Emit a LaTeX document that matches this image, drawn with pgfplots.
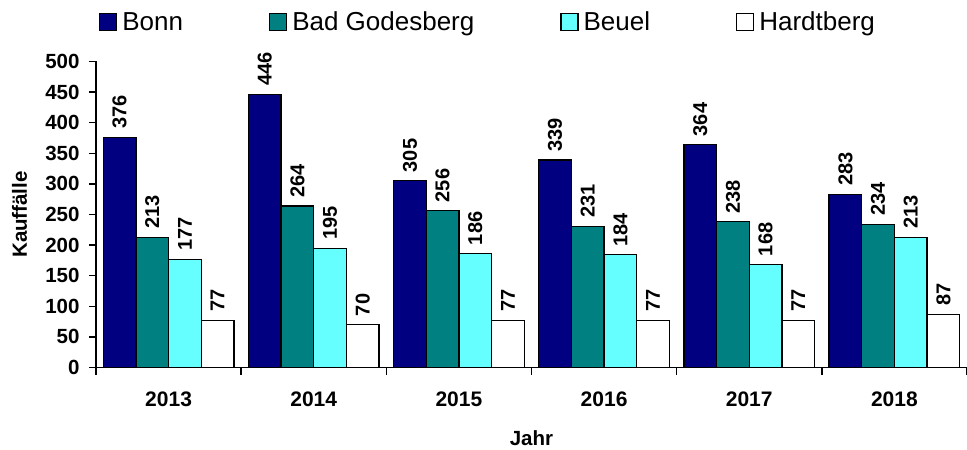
\documentclass[border=0pt]{standalone}
\usepackage{pgfplots}
\pgfplotsset{compat=1.18}
\usepackage{fontspec}
\setmainfont{Liberation Sans}
\definecolor{bonn}{HTML}{000080}
\definecolor{godesberg}{HTML}{008080}
\definecolor{beuel}{HTML}{66FFFF}
\begin{document}
\begin{tikzpicture}
\begin{axis}[
  scale only axis, width=871pt, height=306pt,
  ymin=0, ymax=500, ytick={0,50,...,500},
  xmin=-0.5, xmax=5.5,
  axis x line*=bottom, axis y line*=left,
  axis line style={line width=1.5pt,-},
  tick align=outside, major tick length=7pt,
  tick style={black,line width=1.5pt},
  xtick={-0.5,0.5,1.5,2.5,3.5,4.5,5.5}, xticklabels={},
  extra x ticks={0,1,2,3,4,5},
  extra x tick labels={2013,2014,2015,2016,2017,2018},
  extra x tick style={major tick length=0pt},
  /pgf/number format/assume math mode=true,
  yticklabel style={font=\bfseries\fontsize{20.5}{24}\selectfont, xshift=-6pt},
  xticklabel style={font=\bfseries\fontsize{21}{24}\selectfont, yshift=-21pt},
  ylabel={Kauffälle},
  ylabel style={at={(axis description cs:-0.0878,0.5)}, anchor=center, font=\bfseries\fontsize{20.5}{24}\selectfont},
  xlabel={Jahr},
  xlabel style={at={(axis description cs:0.5,-0.2304)}, anchor=center, font=\bfseries\fontsize{20.5}{24}\selectfont},
  ybar=0pt, bar width=0.225,
  every axis plot/.append style={draw=black, line width=1.2pt},
  nodes near coords,
  nodes near coords style={rotate=90, anchor=west, text=black, font=\bfseries\fontsize{20}{24}\selectfont, inner xsep=8pt, inner ysep=0pt},
  legend columns=4,
  legend style={at={(axis description cs:0.0034,1.129)}, anchor=west, draw=none, inner sep=0pt,
    font=\fontsize{26}{28}\selectfont,
    /tikz/every even column/.append style={column sep=84pt},
    /tikz/every odd column/.append style={column sep=3pt}},
  legend image code/.code={\draw[#1,draw=black,line width=1.2pt] (0pt,-8.5pt) rectangle (17pt,8.5pt);},
]
\addplot[fill=bonn] coordinates {(0,376) (1,446) (2,305) (3,339) (4,364) (5,283)};
\addlegendentry{Bonn}
\addplot[fill=godesberg] coordinates {(0,213) (1,264) (2,256) (3,231) (4,238) (5,234)};
\addlegendentry{Bad Godesberg}
\addplot[fill=beuel] coordinates {(0,177) (1,195) (2,186) (3,184) (4,168) (5,213)};
\addlegendentry{Beuel}
\addplot[fill=white] coordinates {(0,77) (1,70) (2,77) (3,77) (4,77) (5,87)};
\addlegendentry{Hardtberg}
\coordinate (sw) at (rel axis cs:0,0);
\end{axis}
\pgfresetboundingbox
\path[use as bounding box] (sw) ++(-96pt,-82.5pt) rectangle ++(967pt,450pt);
\end{tikzpicture}
\end{document}
